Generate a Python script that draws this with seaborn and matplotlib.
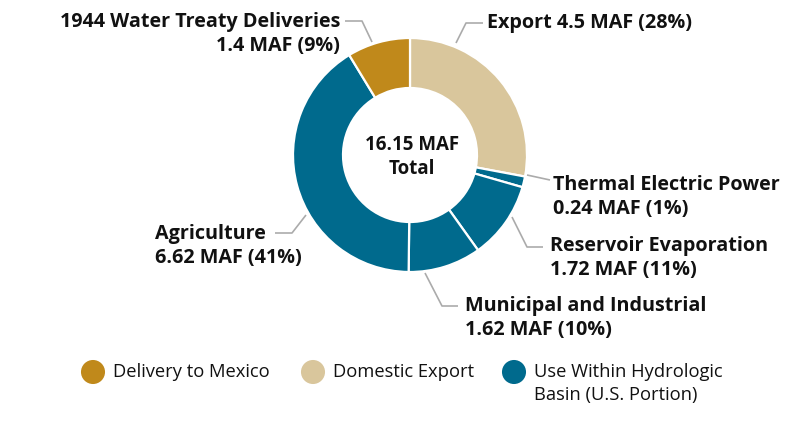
import matplotlib.pyplot as plt
import seaborn as sns

# data
names = ["Export", "Thermal Electric Power", "Reservoir Evaporation",
         "Municipal and Industrial", "Agriculture", "1944 Water Treaty Deliveries"]
values = [4.5, 0.24, 1.72, 1.62, 6.62, 1.4]
percents = [28, 1, 11, 10, 41, 9]
groups = ["Domestic Export", "Use Within Hydrologic\nBasin (U.S. Portion)",
          "Use Within Hydrologic\nBasin (U.S. Portion)",
          "Use Within Hydrologic\nBasin (U.S. Portion)",
          "Use Within Hydrologic\nBasin (U.S. Portion)", "Delivery to Mexico"]
total_label = "16.15 MAF\nTotal"
legend_labels = ["Delivery to Mexico", "Domestic Export",
                 "Use Within Hydrologic\nBasin (U.S. Portion)"]

group_colors = {
    "Delivery to Mexico": "#C0891B",
    "Domestic Export": "#D9C69C",
    "Use Within Hydrologic\nBasin (U.S. Portion)": "#006A8D",
}

W, H = 800, 424


def Y(y):
    # pixel y (top-down) -> axis y
    return H - y


# label layout: leader polyline (px) and text anchor (px)
layout = [
    dict(line=[(456, 43), (466, 23), (483, 23)], xy=(487, 23), ha="left"),
    dict(line=[(527, 175), (550, 180)], xy=(553, 197), ha="left"),
    dict(line=[(512, 217), (527, 247), (543, 247)], xy=(550, 258), ha="left"),
    dict(line=[(425, 273), (442, 306), (458, 306)], xy=(465, 318), ha="left"),
    dict(line=[(306, 215), (292, 233), (275, 233)], xy=(155, 246), ha="left"),
    dict(line=[(372, 42), (362, 21), (345, 21)], xy=(340, 34), ha="right"),
]


def main():
    sns.set_theme(style="white")
    plt.rcParams["font.family"] = ["Open Sans", "DejaVu Sans"]

    fig = plt.figure(figsize=(8, 4.24), dpi=100)
    ax = fig.add_axes([0, 0, 1, 1])

    colors = [group_colors[g] for g in groups]
    ax.pie(values, colors=colors, startangle=90, counterclock=False,
           center=(410, Y(155)), radius=117,
           wedgeprops=dict(width=50, edgecolor="white", linewidth=1.6))

    ax.text(412, Y(157), total_label, ha="center", va="center",
            fontsize=13.5, fontweight="bold", color="#111111",
            linespacing=1.25)

    for name, v, p, lay in zip(names, values, percents, layout):
        xs = [pt[0] for pt in lay["line"]]
        ys = [Y(pt[1]) for pt in lay["line"]]
        ax.plot(xs, ys, color="#ABABAB", lw=1.2, solid_capstyle="butt")
        if name == "Export":
            txt = f"{name} {v:g} MAF ({p}%)"
        else:
            txt = f"{name}\n{v:g} MAF ({p}%)"
        x, y = lay["xy"]
        ax.text(x, Y(y), txt, ha=lay["ha"], va="center",
                multialignment=lay["ha"], fontsize=14.2,
                fontweight="bold", color="#111111", linespacing=1.22)

    # legend
    legend_x = [93, 313, 514]
    for lx, lab in zip(legend_x, legend_labels):
        ax.scatter([lx], [Y(372)], s=300, color=group_colors[lab],
                   edgecolor="none", zorder=3)
        ax.text(lx + 20, Y(372), lab.split("\n")[0], ha="left", va="center",
                fontsize=13.2, color="#111111")
        if "\n" in lab:
            ax.text(lx + 20, Y(395), lab.split("\n")[1], ha="left",
                    va="center", fontsize=13.2, color="#111111")

    ax.set_xlim(0, W)
    ax.set_ylim(0, H)
    ax.set_aspect("auto")
    ax.axis("off")

    fig.savefig("out.png", dpi=100, facecolor="white")


if __name__ == "__main__":
    main()
